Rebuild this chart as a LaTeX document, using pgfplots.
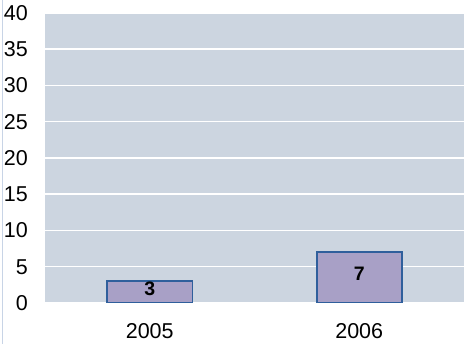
\documentclass[border=0pt]{standalone}
\usepackage{pgfplots}
\pgfplotsset{compat=1.18}
\usepackage{fontspec}
\setmainfont{Liberation Sans}
\definecolor{bgc}{HTML}{CCD5E0}
\definecolor{barfill}{HTML}{A8A0C6}
\definecolor{barline}{HTML}{2F5F9C}
\definecolor{edgeline}{HTML}{C8D4E6}
\begin{document}
\begin{tikzpicture}[x=1pt,y=1pt]
\path[use as bounding box] (0,0) rectangle (469,344);
\draw[edgeline, line width=1.5pt] (2.5,0) -- (2.5,344);
\begin{axis}[
  at={(45pt,41pt)}, anchor=south west,
  scale only axis, width=419pt, height=290pt,
  xmin=-0.5, xmax=1.5, ymin=0, ymax=40,
  ytick={0,5,...,40},
  xtick={0,1}, xticklabels={2005,2006},
  axis background/.style={fill=bgc},
  axis line style={draw=none},
  major tick length=0pt,
  ymajorgrids, grid style={white, line width=1.5pt},
  /pgf/number format/assume math mode=true,
  tick label style={font=\fontsize{21.5}{24}\selectfont, text=black},
  yticklabel style={inner sep=0pt, xshift=-17pt},
  xticklabel style={inner sep=0pt, yshift=-20pt},
]
\addplot[ybar, bar width=85pt, fill=barfill, draw=barline, line width=1.5pt] coordinates {(0,3) (1,7)};
\addplot[only marks, mark=none, nodes near coords, point meta=explicit symbolic,
  every node near coord/.style={anchor=center, inner sep=0pt, font=\fontsize{19.5}{22}\selectfont\bfseries, text=black}]
  coordinates {(0,2.0) [3] (1,4.05) [7]};
\end{axis}
\end{tikzpicture}
\end{document}
